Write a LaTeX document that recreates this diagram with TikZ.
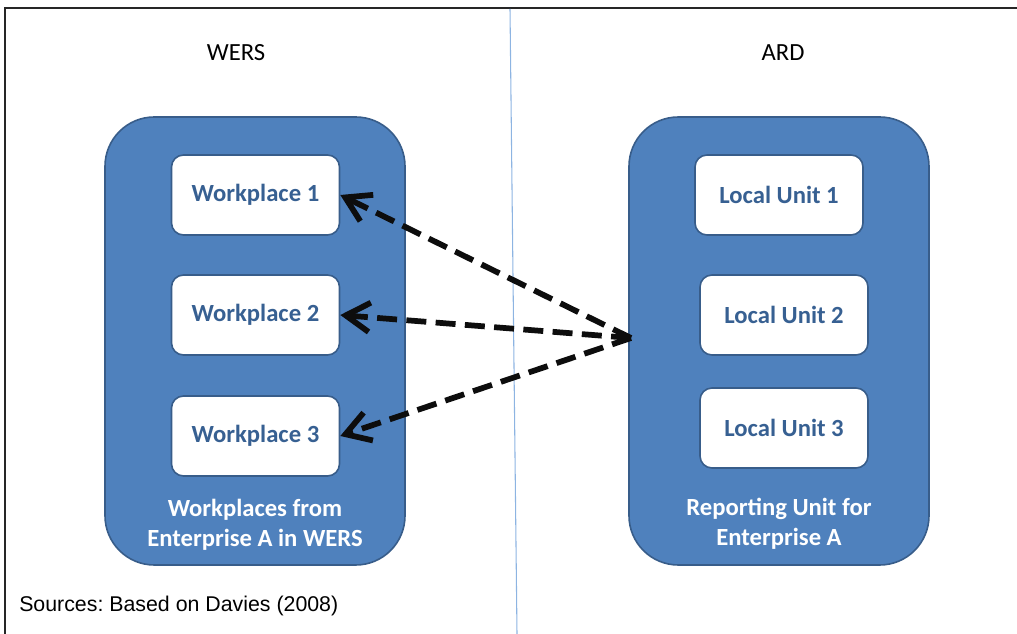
\documentclass[tikz,border=0pt]{standalone}
\usepackage{fontspec}
\setmainfont{Carlito}
\newfontfamily\sourcefont{Liberation Sans}
\usepackage{tikz}
\usetikzlibrary{arrows.meta}
\definecolor{groupblue}{RGB}{79, 129, 189}
\definecolor{edgeblue}{RGB}{56, 93, 138}
\definecolor{textblue}{RGB}{55, 96, 146}
\definecolor{divline}{RGB}{141, 180, 226}
\tikzstyle{group} = [rectangle, rounded corners=37pt, minimum width=225pt, minimum height=336pt, line width=1.2pt, draw=edgeblue, fill=groupblue]
\tikzstyle{unit} = [rectangle, rounded corners=9pt, minimum width=126pt, minimum height=60pt, line width=1.2pt, draw=edgeblue, fill=white, text=textblue, font=\fontsize{18.5}{22}\selectfont\bfseries]
\tikzstyle{grouplabel} = [align=center, text=white, inner sep=0pt, font=\fontsize{18.5}{22.5}\selectfont\bfseries]
\tikzstyle{heading} = [inner sep=0pt, font=\fontsize{18.5}{22}\selectfont]
\tikzstyle{arrow} = [line width=4.3pt, black!95, dash pattern=on 15pt off 7pt, -{Straight Barb[length=18pt, width=22pt, line width=4.3pt]}]

\begin{document}
\frenchspacing
\begin{tikzpicture}[x=0.75pt, y=-0.75pt]
     \useasboundingbox (0, 0) rectangle (1017, 634);
     \draw[line width=1.5pt, black!85] (5, 634) -- (5, 8) -- (1017, 8);
     \draw[divline, line width=0.8pt] (510, 9) -- (517, 634);
     \node (wers) at (236, 53) [heading] {WERS};
     \node (ard) at (783, 53) [heading] {ARD};
     \node (leftgroup) at (255, 341) [group] {};
     \node (rightgroup) at (779, 341) [group] {};
     \node (work1) at (255.5, 195) [unit] {Workplace 1};
     \node (work2) at (255.5, 315) [unit] {Workplace 2};
     \node (work3) at (255.5, 436) [unit] {Workplace 3};
     \node (local1) at (779, 195) [unit] {Local Unit 1};
     \node (local2) at (784, 315) [unit] {Local Unit 2};
     \node (local3) at (784, 428) [unit] {Local Unit 3};
     \node (leftlabel) at (255, 525) [grouplabel] {Workplaces from\\Enterprise A in WERS};
     \node (rightlabel) at (779, 524) [grouplabel] {Reporting Unit for\\Enterprise A};
     \coordinate (report) at (631, 338);
     \draw[arrow] (report) -- (work1.east);
     \draw[arrow] (report) -- (work2.east);
     \draw[arrow] (report) -- (work3.east);
     \node (sources) at (19, 606) [anchor=west, inner sep=0pt, font=\sourcefont\fontsize{16}{19}\selectfont] {Sources: Based on Davies (2008)};
   \end{tikzpicture}
\end{document}
